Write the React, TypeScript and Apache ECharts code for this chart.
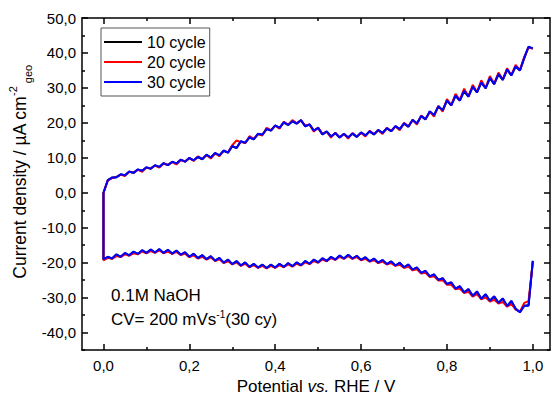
import { useEffect, useRef } from "react";
import * as echarts from "echarts";

// Potential grid (V vs. RHE)
const potential = [
  0.0, 0.01, 0.02, 0.03, 0.04, 0.05, 0.06, 0.07, 0.08, 0.09,
  0.1, 0.11, 0.12, 0.13, 0.14, 0.15, 0.16, 0.17, 0.18, 0.19,
  0.2, 0.21, 0.22, 0.23, 0.24, 0.25, 0.26, 0.27, 0.28, 0.29,
  0.3, 0.31, 0.32, 0.33, 0.34, 0.35, 0.36, 0.37, 0.38, 0.39,
  0.4, 0.41, 0.42, 0.43, 0.44, 0.45, 0.46, 0.47, 0.48, 0.49,
  0.5, 0.51, 0.52, 0.53, 0.54, 0.55, 0.56, 0.57, 0.58, 0.59,
  0.6, 0.61, 0.62, 0.63, 0.64, 0.65, 0.66, 0.67, 0.68, 0.69,
  0.7, 0.71, 0.72, 0.73, 0.74, 0.75, 0.76, 0.77, 0.78, 0.79,
  0.8, 0.81, 0.82, 0.83, 0.84, 0.85, 0.86, 0.87, 0.88, 0.89,
  0.9, 0.91, 0.92, 0.93, 0.94, 0.95, 0.96, 0.97, 0.98, 0.99,
  1.0,
];

// Anodic (upper) branches, µA cm-2
const upper10 = [
  0.0, 3.6, 4.3, 4.5, 5.2, 5.0, 6.0, 5.7, 6.6, 6.3,
  7.2, 6.9, 7.8, 7.4, 8.4, 7.9, 8.8, 8.4, 9.4, 8.9,
  9.9, 9.3, 10.2, 9.6, 10.8, 10.1, 11.3, 10.7, 12.0, 11.5,
  13.3, 12.8, 14.7, 14.3, 15.8, 15.3, 16.8, 16.6, 18.2, 17.8,
  19.2, 18.6, 20.1, 19.4, 20.4, 19.8, 20.7, 19.0, 19.5, 17.8,
  18.5, 16.7, 17.5, 16.1, 17.0, 15.8, 16.8, 15.8, 16.9, 16.0,
  17.2, 16.4, 17.5, 16.7, 17.9, 17.1, 18.4, 17.6, 19.0, 18.2,
  19.8, 18.9, 20.8, 19.8, 21.9, 21.0, 23.2, 22.2, 24.7, 23.6,
  26.3, 25.0, 27.7, 26.4, 29.1, 27.5, 30.3, 28.7, 31.5, 29.9,
  32.8, 31.1, 33.9, 32.3, 35.2, 33.6, 36.1, 35.0, 38.5, 41.7,
  41.3,
];
const upper20 = [
  0.0, 3.5, 4.2, 4.5, 5.2, 4.8, 6.0, 5.8, 6.6, 6.0,
  7.2, 7.0, 7.8, 7.2, 8.4, 8.0, 8.8, 8.1, 9.4, 9.0,
  9.9, 9.1, 10.4, 9.7, 10.8, 9.8, 11.3, 10.5, 12.0, 11.6,
  13.6, 15.0, 14.5, 14.2, 16.2, 15.4, 16.8, 16.4, 18.6, 17.9,
  19.2, 18.3, 20.3, 19.5, 20.8, 19.9, 20.7, 19.3, 19.5, 17.5,
  18.7, 16.8, 17.5, 15.8, 17.2, 15.9, 16.8, 15.5, 17.1, 16.1,
  17.2, 16.1, 17.7, 16.8, 17.9, 16.8, 18.6, 17.7, 19.0, 17.9,
  20.0, 19.0, 20.8, 19.5, 22.1, 21.1, 23.2, 21.8, 24.9, 23.2,
  26.8, 25.1, 28.3, 26.5, 29.8, 27.6, 30.9, 28.8, 32.2, 30.0,
  33.4, 31.2, 34.4, 32.4, 35.6, 33.7, 36.6, 35.1, 38.9, 41.6,
  41.2,
];
const upper30 = [
  0.0, 3.6, 4.4, 4.4, 5.3, 5.0, 6.1, 5.7, 6.7, 6.3,
  7.3, 6.9, 7.9, 7.4, 8.5, 7.9, 8.9, 8.4, 9.5, 8.9,
  10.0, 9.3, 10.3, 9.6, 10.9, 10.1, 11.4, 10.7, 12.1, 11.5,
  13.4, 12.8, 14.8, 14.3, 15.9, 15.3, 16.9, 16.6, 18.3, 17.8,
  19.3, 18.6, 20.2, 19.4, 20.5, 19.8, 20.8, 19.0, 19.6, 17.8,
  18.6, 16.7, 17.6, 16.1, 17.1, 15.8, 16.9, 15.8, 17.0, 16.0,
  17.3, 16.4, 17.6, 16.7, 18.0, 17.1, 18.5, 17.6, 19.1, 18.2,
  19.9, 18.9, 20.9, 19.8, 22.0, 21.0, 23.3, 22.2, 24.8, 23.6,
  26.4, 25.0, 27.8, 26.4, 29.2, 27.5, 30.4, 28.7, 31.6, 29.9,
  32.9, 31.1, 34.0, 32.3, 35.3, 33.6, 36.2, 35.0, 38.6, 41.8,
  41.3,
];

// Cathodic (lower) branches, µA cm-2, listed by ascending potential
const lower10 = [
  -19.1, -18.4, -18.8, -17.7, -18.3, -17.3, -17.9, -16.9, -17.5, -16.5,
  -17.2, -16.3, -17.1, -16.2, -17.2, -16.4, -17.4, -16.6, -17.7, -17.1,
  -18.3, -17.5, -18.7, -17.9, -19.0, -18.2, -19.4, -18.7, -20.0, -19.2,
  -20.4, -19.6, -20.8, -20.0, -21.2, -20.4, -21.4, -20.6, -21.5, -20.6,
  -21.4, -20.4, -21.2, -20.2, -21.0, -20.0, -20.7, -19.6, -20.3, -19.2,
  -19.9, -18.8, -19.5, -18.4, -19.1, -18.0, -18.8, -17.8, -18.8, -18.1,
  -19.2, -18.5, -19.6, -18.9, -20.0, -19.3, -20.4, -19.7, -20.8, -20.1,
  -21.3, -20.6, -22.0, -21.4, -22.9, -22.4, -23.9, -23.4, -24.9, -24.5,
  -26.1, -25.7, -27.4, -26.8, -28.5, -27.6, -29.5, -28.3, -30.3, -29.1,
  -30.9, -29.7, -31.5, -30.3, -32.4, -31.0, -33.2, -34.1, -32.3, -32.2,
  -19.5,
];
const lower20 = [
  -19.3, -18.6, -18.9, -18.1, -18.4, -17.6, -18.0, -17.3, -17.6, -16.8,
  -17.3, -16.7, -17.2, -16.5, -17.3, -16.8, -17.5, -16.9, -17.8, -17.4,
  -18.4, -17.9, -18.8, -18.3, -19.1, -18.5, -19.5, -19.0, -20.1, -19.6,
  -20.5, -19.9, -20.9, -20.3, -21.3, -20.7, -21.5, -20.9, -21.6, -20.9,
  -21.5, -20.7, -21.3, -20.5, -21.1, -20.3, -20.8, -19.9, -20.4, -19.5,
  -20.0, -19.1, -19.6, -18.7, -19.2, -18.3, -18.9, -18.1, -18.9, -18.4,
  -19.3, -18.9, -19.7, -19.3, -20.1, -19.7, -20.5, -20.1, -20.9, -20.6,
  -21.5, -21.1, -22.2, -21.9, -23.1, -22.9, -24.1, -23.9, -25.1, -25.0,
  -26.3, -26.3, -27.6, -27.4, -28.7, -28.3, -29.7, -29.0, -30.5, -29.9,
  -31.1, -30.6, -31.7, -31.2, -32.6, -31.8, -33.4, -34.0, -31.5, -31.0,
  -19.8,
];
const lower30 = [
  -19.0, -18.3, -18.8, -17.6, -18.3, -17.2, -17.9, -16.8, -17.5, -16.4,
  -17.2, -16.2, -17.1, -16.1, -17.2, -16.3, -17.4, -16.5, -17.7, -17.0,
  -18.3, -17.4, -18.7, -17.8, -19.0, -18.1, -19.4, -18.6, -20.0, -19.1,
  -20.4, -19.5, -20.8, -19.9, -21.2, -20.3, -21.4, -20.5, -21.5, -20.5,
  -21.4, -20.3, -21.2, -20.1, -21.0, -19.9, -20.7, -19.5, -20.3, -19.1,
  -19.9, -18.7, -19.5, -18.3, -19.1, -17.9, -18.8, -17.7, -18.8, -18.0,
  -19.2, -18.4, -19.6, -18.8, -20.0, -19.2, -20.4, -19.6, -20.8, -20.0,
  -21.3, -20.5, -22.0, -21.3, -22.9, -22.3, -23.9, -23.3, -24.9, -24.4,
  -26.1, -25.6, -27.4, -26.7, -28.5, -27.5, -29.5, -28.2, -30.3, -29.0,
  -30.9, -29.6, -31.5, -30.2, -32.4, -30.9, -33.2, -34.2, -32.3, -32.3,
  -19.5,
];

const seriesNames = ["10 cycle", "20 cycle", "30 cycle"];
const seriesColors = ["#000000", "#ff0000", "#0000ff"];

const xMajorTicks = [0, 0.2, 0.4, 0.6, 0.8, 1.0];
const xMinorTicks = [0.1, 0.3, 0.5, 0.7, 0.9];
const yMajorTicks = [-40, -30, -20, -10, 0, 10, 20, 30, 40, 50];
const yMinorTicks = [-45, -35, -25, -15, -5, 5, 15, 25, 35, 45];

const FONT = "Liberation Sans, Arial, sans-serif";

function buildLoop(lower: number[], upper: number[]) {
  const pts: number[][] = [];
  for (let i = lower.length - 1; i >= 0; i--) pts.push([potential[i], lower[i]]);
  for (let i = 0; i < upper.length; i++) pts.push([potential[i], upper[i]]);
  return pts;
}

const fmt = (v: number) => v.toFixed(1).replace(".", ",");

export default function App() {
  const ref = useRef<HTMLDivElement>(null);

  useEffect(() => {
    if (!ref.current) return;
    const chart = echarts.init(ref.current, null, { renderer: "svg" });

    const axisLineStyle = { color: "#000", width: 1.5 };
    const XMIN = -0.05;
    const XMAX = 1.04;
    const YMIN = -45;
    const YMAX = 50;

    const xAxisBase = (pos: string, ticks: number[], len: number, labels: boolean, line: boolean, extra: any = {}) => ({
      type: "value",
      position: pos,
      min: XMIN,
      max: XMAX,
      axisLine: { show: line, onZero: false, lineStyle: axisLineStyle },
      axisTick: { show: true, inside: true, length: len, customValues: ticks, lineStyle: axisLineStyle },
      axisLabel: labels
        ? { show: true, customValues: ticks, formatter: fmt, fontSize: 15, color: "#000", fontFamily: FONT, margin: 8 }
        : { show: false },
      splitLine: { show: false },
      ...extra,
    });
    const yAxisBase = (pos: string, ticks: number[], len: number, labels: boolean, line: boolean, extra: any = {}) => ({
      type: "value",
      position: pos,
      min: YMIN,
      max: YMAX,
      axisLine: { show: line, onZero: false, lineStyle: axisLineStyle },
      axisTick: { show: true, inside: true, length: len, customValues: ticks, lineStyle: axisLineStyle },
      axisLabel: labels
        ? { show: true, customValues: ticks, formatter: fmt, fontSize: 15, color: "#000", fontFamily: FONT, margin: 6 }
        : { show: false },
      splitLine: { show: false },
      ...extra,
    });

    const loops = [buildLoop(lower10, upper10), buildLoop(lower20, upper20), buildLoop(lower30, upper30)];

    chart.setOption({
      animation: false,
      backgroundColor: "#fff",
      grid: { left: 82, right: 1, top: 18, bottom: 49, containLabel: false },
      legend: {
        data: seriesNames,
        orient: "vertical",
        left: 101,
        top: 28,
        itemWidth: 38,
        itemHeight: 14,
        itemGap: 4,
        padding: [6, 4, 6, 2],
        borderColor: "#555",
        borderWidth: 1,
        itemStyle: { opacity: 0 },
        lineStyle: { width: 2 },
        textStyle: { fontSize: 16, color: "#000", fontFamily: FONT },
      },
      xAxis: [
        xAxisBase("bottom", xMajorTicks, 6, true, true, {
          name: "{a|Potential }{i|vs.}{a| RHE / V}",
          nameLocation: "middle",
          nameGap: 24,
          nameTextStyle: {
            color: "#000",
            rich: {
              a: { fontSize: 17, fontFamily: FONT, color: "#000" },
              i: { fontSize: 17, fontFamily: FONT, fontStyle: "italic", color: "#000" },
            },
          },
        }),
        xAxisBase("bottom", xMinorTicks, 3, false, false),
        xAxisBase("top", xMajorTicks, 6, false, true),
        xAxisBase("top", xMinorTicks, 3, false, false),
      ],
      yAxis: [
        yAxisBase("left", yMajorTicks, 6, true, true),
        yAxisBase("left", yMinorTicks, 3, false, false),
        yAxisBase("right", yMajorTicks, 6, false, true),
        yAxisBase("right", yMinorTicks, 3, false, false),
      ],
      graphic: [
        {
          type: "text",
          x: 20,
          y: 172,
          rotation: Math.PI / 2,
          style: {
            text: "{a|Current density / µA cm}{sup|-2}{sub| geo}",
            align: "center",
            verticalAlign: "middle",
            rich: {
              a: { fontSize: 17.5, fontFamily: FONT, fill: "#000", lineHeight: 26, verticalAlign: "middle" },
              sup: { fontSize: 11, fontFamily: FONT, fill: "#000", verticalAlign: "top" },
              sub: { fontSize: 11, fontFamily: FONT, fill: "#000", verticalAlign: "bottom" },
            },
          },
        },
        {
          type: "text",
          left: 111,
          top: 287,
          style: { text: "0.1M NaOH", fontSize: 17, fontFamily: FONT, fill: "#000" },
        },
        {
          type: "text",
          left: 111,
          top: 309,
          style: {
            text: "{a|CV= 200 mVs}{s|-1}{a|(30 cy)}",
            rich: {
              a: { fontSize: 17, fontFamily: FONT, fill: "#000", lineHeight: 20 },
              s: { fontSize: 10, fontFamily: FONT, fill: "#000", verticalAlign: "top" },
            },
          },
        },
      ],
      series: seriesNames.map((name, k) => ({
        name,
        type: "line",
        xAxisIndex: 0,
        yAxisIndex: 0,
        data: loops[k],
        symbol: "none",
        showSymbol: false,
        smooth: false,
        color: seriesColors[k],
        lineStyle: { color: seriesColors[k], width: 2 },
        z: 2 + k,
      })),
    });

    return () => chart.dispose();
  }, []);

  return <div ref={ref} style={{ width: 551, height: 400, position: "absolute", left: 0, top: 0 }} />;
}
